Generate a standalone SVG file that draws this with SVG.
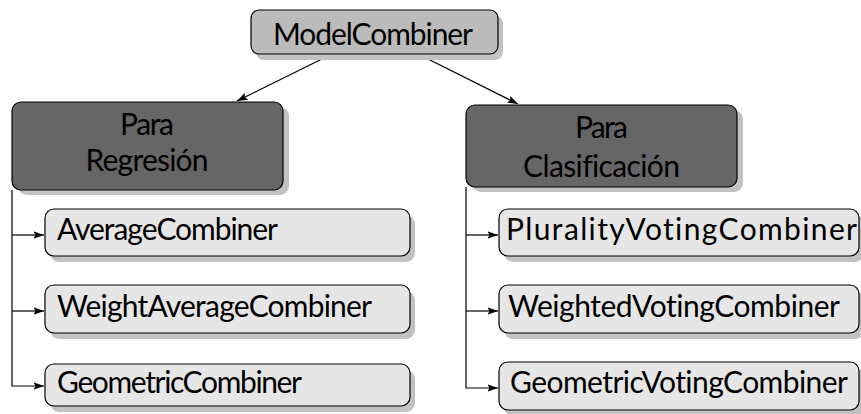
<svg xmlns="http://www.w3.org/2000/svg" width="861" height="414" viewBox="0 0 861 414">
<style>
text{font-family:Lato,"Liberation Sans",Arial,sans-serif;font-size:30px;fill:#000;font-variant-ligatures:none}
.box{stroke:#000;stroke-width:1.2}
.shadow{fill:#c2c2c2}
.root{fill:#bbbbbb}
.cat{fill:#666666}
.leaf{fill:#e6e6e6}
.conn{fill:none;stroke:#000;stroke-width:1.2}
</style>
<defs>
<marker id="arr" viewBox="0 0 11 8" refX="10.5" refY="4" markerWidth="11" markerHeight="8" markerUnits="userSpaceOnUse" orient="auto">
<path d="M0,0.3 L10.5,4 L0,7.7 L2,4 z" fill="#000"/>
</marker>
</defs>
<g id="connectors">
<path class="conn" d="M330,55 L237,101" marker-end="url(#arr)"/>
<path class="conn" d="M420,55 L518,104" marker-end="url(#arr)"/>
<path class="conn" d="M12,190 V386 H44" marker-end="url(#arr)"/>
<path class="conn" d="M12,235 H44" marker-end="url(#arr)"/>
<path class="conn" d="M12,311 H44" marker-end="url(#arr)"/>
<path class="conn" d="M466,187 V388 H498" marker-end="url(#arr)"/>
<path class="conn" d="M466,235 H498" marker-end="url(#arr)"/>
<path class="conn" d="M466,311 H498" marker-end="url(#arr)"/>
</g>
<g id="node-modelcombiner">
<rect class="shadow" x="256" y="16" width="247" height="44" rx="8"/>
<rect class="box root" x="251" y="10" width="247" height="44" rx="8"/>
<text x="273" y="45" textLength="200" lengthAdjust="spacing">ModelCombiner</text>
</g>
<g id="node-regresion">
<rect class="shadow" x="18" y="107" width="271" height="88" rx="9"/>
<rect class="box cat" x="12" y="102" width="271" height="88" rx="9"/>
<text x="147" y="135" text-anchor="middle" textLength="54" lengthAdjust="spacing">Para</text>
<text x="147" y="171" text-anchor="middle" textLength="123" lengthAdjust="spacing">Regresión</text>
</g>
<g id="node-clasificacion">
<rect class="shadow" x="472" y="110" width="271" height="82" rx="9"/>
<rect class="box cat" x="466" y="105" width="271" height="82" rx="9"/>
<text x="601.5" y="138" text-anchor="middle" textLength="53" lengthAdjust="spacing">Para</text>
<text x="601.5" y="177" text-anchor="middle" textLength="157" lengthAdjust="spacing">Clasificación</text>
</g>
<g id="node-average">
<rect class="shadow" x="50" y="215" width="365" height="47" rx="9"/>
<rect class="box leaf" x="45" y="209" width="365" height="47" rx="9"/>
<text x="57" y="240" textLength="221" lengthAdjust="spacing">AverageCombiner</text>
</g>
<g id="node-weightaverage">
<rect class="shadow" x="50" y="291" width="365" height="48" rx="9"/>
<rect class="box leaf" x="45" y="285" width="365" height="48" rx="9"/>
<text x="57" y="317" textLength="315" lengthAdjust="spacing">WeightAverageCombiner</text>
</g>
<g id="node-geometric">
<rect class="shadow" x="50" y="370" width="365" height="42" rx="9"/>
<rect class="box leaf" x="45" y="364" width="365" height="42" rx="9"/>
<text x="57" y="393" textLength="245" lengthAdjust="spacing">GeometricCombiner</text>
</g>
<g id="node-plurality">
<rect class="shadow" x="504" y="215" width="360" height="47" rx="9"/>
<rect class="box leaf" x="499" y="209" width="360" height="47" rx="9"/>
<text x="506" y="240" textLength="351" lengthAdjust="spacing">PluralityVotingCombiner</text>
</g>
<g id="node-weighted">
<rect class="shadow" x="504" y="291" width="360" height="48" rx="9"/>
<rect class="box leaf" x="499" y="285" width="360" height="48" rx="9"/>
<text x="508" y="317" textLength="332" lengthAdjust="spacing">WeightedVotingCombiner</text>
</g>
<g id="node-geometricvoting">
<rect class="shadow" x="504" y="368" width="360" height="48" rx="9"/>
<rect class="box leaf" x="499" y="362" width="360" height="48" rx="9"/>
<text x="510" y="393" textLength="338" lengthAdjust="spacing">GeometricVotingCombiner</text>
</g>
</svg>
